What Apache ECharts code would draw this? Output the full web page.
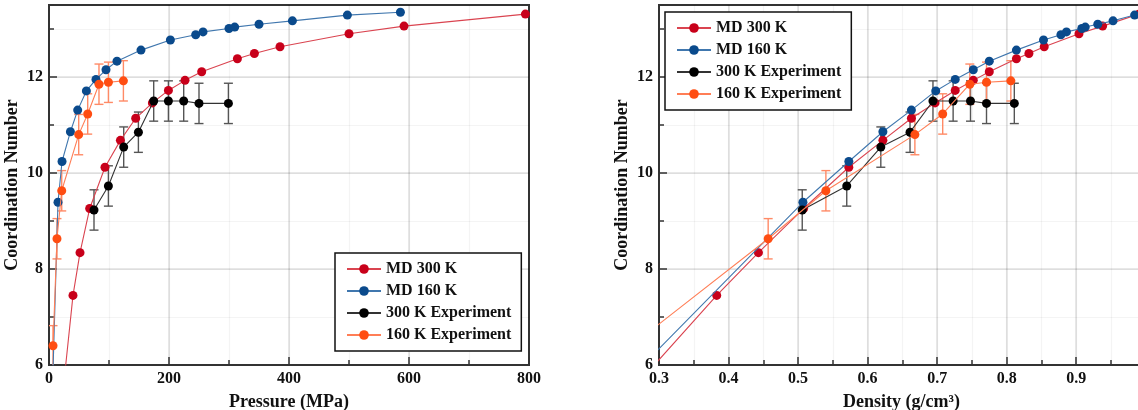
<!DOCTYPE html>
<html>
<head>
<meta charset="utf-8">
<script src="https://cdn.jsdelivr.net/npm/echarts@6/dist/echarts.min.js"></script>
<style>
html,body{margin:0;padding:0;background:#fff;}
#chart{width:1138px;height:410px;}
</style>
</head>
<body>
<div id="chart"></div>
<script>
// ---------------- DATA ----------------
const seriesNames = ['MD 300 K', 'MD 160 K', '300 K Experiment', '160 K Experiment'];

// MD 300 K
const md300Pressure = [22, 40, 51.7, 67.8, 93.3, 119, 144.5, 172.3, 199, 226.7, 254.5, 314, 342.3, 385, 500, 591.7, 794];
const md300Density  = [0.25, 0.383, 0.443, 0.508, 0.573, 0.622, 0.663, 0.697, 0.726, 0.752, 0.775, 0.814, 0.832, 0.854, 0.904, 0.938, 0.99];
const md300CN       = [5.3, 7.45, 8.34, 9.26, 10.12, 10.68, 11.14, 11.46, 11.72, 11.93, 12.11, 12.38, 12.49, 12.63, 12.90, 13.06, 13.31];

// MD 160 K
const md160Pressure = [6, 15, 21.7, 35.7, 47.8, 62.3, 78.3, 95, 113.3, 153.3, 202.3, 244.5, 256.7, 300, 309.5, 350, 405.7, 497.3, 585.7];
const md160Density  = [0.25, 0.507, 0.573, 0.622, 0.663, 0.698, 0.726, 0.752, 0.775, 0.814, 0.853, 0.878, 0.886, 0.908, 0.913, 0.931, 0.953, 0.984, 1.0];
const md160CN       = [5.6, 9.39, 10.24, 10.86, 11.31, 11.71, 11.95, 12.15, 12.33, 12.56, 12.77, 12.88, 12.94, 13.01, 13.04, 13.10, 13.17, 13.29, 13.35];

// 300 K Experiment
const exp300Pressure = [75, 99, 124.5, 149, 174.5, 199, 224.5, 250, 299];
const exp300Density  = [0.506, 0.570, 0.619, 0.661, 0.694, 0.723, 0.748, 0.771, 0.811];
const exp300CN       = [9.23, 9.73, 10.54, 10.85, 11.50, 11.50, 11.50, 11.45, 11.45];
const exp300Err      = [0.42, 0.42, 0.42, 0.42, 0.42, 0.42, 0.42, 0.42, 0.42];

// 160 K Experiment
const exp160Pressure = [6.7, 13.3, 21.2, 49.5, 64.5, 83.3, 99, 124];
const exp160Density  = [0.26, 0.457, 0.540, 0.668, 0.708, 0.747, 0.771, 0.806];
const exp160CN       = [6.40, 8.63, 9.63, 10.80, 11.23, 11.85, 11.89, 11.92];
const exp160Err      = [0.42, 0.42, 0.42, 0.42, 0.42, 0.42, 0.42, 0.42];

// Axis ticks
const pressureTicks = {min: 0, max: 800, major: 200, minor: 100, showMax: true};
const densityTicks  = {min: 0.3, max: 0.9975, major: 0.1, minor: 0.05, showMax: false};
const cnTicks       = {min: 6, max: 13.5, major: 2, minor: 1, showMax: false};

// ---------------- STYLE ----------------
const FONT = '"Liberation Serif", "Times New Roman", serif';
const markerColors = ['#C8001A', '#0A4A8C', '#000000', '#FF4D12'];
const lineColors   = ['#DA4450', '#4077AE', '#333333', '#FF7E56'];
const errColors    = {exp300: '#555555', exp160: '#FF8A66'};

function zip(xs, ys, es) {
  return xs.map((x, i) => es ? [x, ys[i], es[i]] : [x, ys[i]]);
}

function majorAxis(grid, t, isX, name) {
  return {
    type: 'value', gridIndex: grid, min: t.min, max: t.max, interval: t.major,
    position: isX ? 'bottom' : 'left',
    name: name, nameLocation: 'middle',
    nameGap: isX ? 28 : 28,
    nameRotate: isX ? 0 : 90,
    nameTextStyle: {fontFamily: FONT, fontWeight: 'bold', fontSize: 18, color: '#111'},
    axisLine: {show: true, onZero: false, lineStyle: {color: '#333', width: 2}},
    axisTick: {show: true, inside: true, length: 8, lineStyle: {color: '#333', width: 1.5}},
    axisLabel: {show: true, fontFamily: FONT, fontWeight: 'bold', fontSize: 16, color: '#111', margin: 6,
                showMaxLabel: t.showMax, hideOverlap: false},
    splitLine: {show: true, showMinLine: false, showMaxLine: false, lineStyle: {color: 'rgba(0,0,0,0.12)', width: 1.5}},
    minorTick: {show: false}
  };
}
function minorAxis(grid, t, isX) {
  return {
    type: 'value', gridIndex: grid, min: t.min, max: t.max, interval: t.minor,
    position: isX ? 'bottom' : 'left',
    axisLine: {show: false, onZero: false},
    axisTick: {show: true, inside: true, length: 5, lineStyle: {color: '#333', width: 1.5}},
    axisLabel: {show: false},
    splitLine: {show: true, showMinLine: false, showMaxLine: false, lineStyle: {color: 'rgba(0,0,0,0.045)', width: 1.2}}
  };
}

function lineSeries(name, idx, data, axisIdx) {
  return {
    name: name, type: 'line', xAxisIndex: axisIdx, yAxisIndex: axisIdx,
    data: data, symbol: 'circle', symbolSize: 9, clip: true,
    itemStyle: {color: markerColors[idx], borderWidth: 0},
    lineStyle: {color: lineColors[idx], width: 1.1},
    emphasis: {disabled: true}, z: 3 + idx
  };
}
function errSeries(data, axisIdx, color) {
  return {
    type: 'custom', xAxisIndex: axisIdx, yAxisIndex: axisIdx, clip: true,
    data: data, encode: {x: 0, y: 1}, z: 2, silent: true,
    renderItem: function (params, api) {
      const x = api.value(0), y = api.value(1), e = api.value(2);
      const top = api.coord([x, y + e]);
      const bot = api.coord([x, y - e]);
      const cw = 4.5;
      const style = {stroke: color, lineWidth: 1.4, fill: null};
      return {type: 'group', children: [
        {type: 'line', shape: {x1: top[0], y1: top[1], x2: bot[0], y2: bot[1]}, style: style},
        {type: 'line', shape: {x1: top[0] - cw, y1: top[1], x2: top[0] + cw, y2: top[1]}, style: style},
        {type: 'line', shape: {x1: bot[0] - cw, y1: bot[1], x2: bot[0] + cw, y2: bot[1]}, style: style}
      ]};
    }
  };
}

function legendAt(left, top) {
  return {
    data: seriesNames, orient: 'vertical', left: left, top: top,
    padding: [8, 10, 8, 11], itemGap: 6, itemWidth: 34, itemHeight: 12,
    borderColor: '#111', borderWidth: 1.5, backgroundColor: '#fff',
    textStyle: {fontFamily: FONT, fontWeight: 'bold', fontSize: 16, color: '#111', lineHeight: 16},
    selectedMode: false, z: 10
  };
}

const chart = echarts.init(document.getElementById('chart'), null, {renderer: 'canvas'});
const option = {
  animation: false,
  backgroundColor: '#fff',
  grid: [
    {left: 49, right: 609, top: 5, bottom: 45, show: true, borderColor: '#333', borderWidth: 2, containLabel: false, outerBoundsMode: 'none'},
    {left: 659, right: -6, top: 5, bottom: 45, show: true, borderColor: '#333', borderWidth: 2, containLabel: false, outerBoundsMode: 'none'}
  ],
  xAxis: [
    majorAxis(0, pressureTicks, true, 'Pressure (MPa)'),
    minorAxis(0, pressureTicks, true),
    majorAxis(1, densityTicks, true, 'Density (g/cm³)'),
    minorAxis(1, densityTicks, true)
  ],
  yAxis: [
    majorAxis(0, cnTicks, false, 'Coordination Number'),
    minorAxis(0, cnTicks, false),
    majorAxis(1, cnTicks, false, 'Coordination Number'),
    minorAxis(1, cnTicks, false)
  ],
  legend: [legendAt(335, 253), legendAt(665, 12)],
  series: [
    // pressure panel
    lineSeries(seriesNames[0], 0, zip(md300Pressure, md300CN), 0),
    lineSeries(seriesNames[1], 1, zip(md160Pressure, md160CN), 0),
    errSeries(zip(exp300Pressure, exp300CN, exp300Err), 0, errColors.exp300),
    lineSeries(seriesNames[2], 2, zip(exp300Pressure, exp300CN), 0),
    errSeries(zip(exp160Pressure, exp160CN, exp160Err), 0, errColors.exp160),
    lineSeries(seriesNames[3], 3, zip(exp160Pressure, exp160CN), 0),
    // density panel
    lineSeries(seriesNames[0], 0, zip(md300Density, md300CN), 2),
    lineSeries(seriesNames[1], 1, zip(md160Density, md160CN), 2),
    errSeries(zip(exp300Density, exp300CN, exp300Err), 2, errColors.exp300),
    lineSeries(seriesNames[2], 2, zip(exp300Density, exp300CN), 2),
    errSeries(zip(exp160Density, exp160CN, exp160Err), 2, errColors.exp160),
    lineSeries(seriesNames[3], 3, zip(exp160Density, exp160CN), 2)
  ]
};
chart.setOption(option);
</script>
</body>
</html>
